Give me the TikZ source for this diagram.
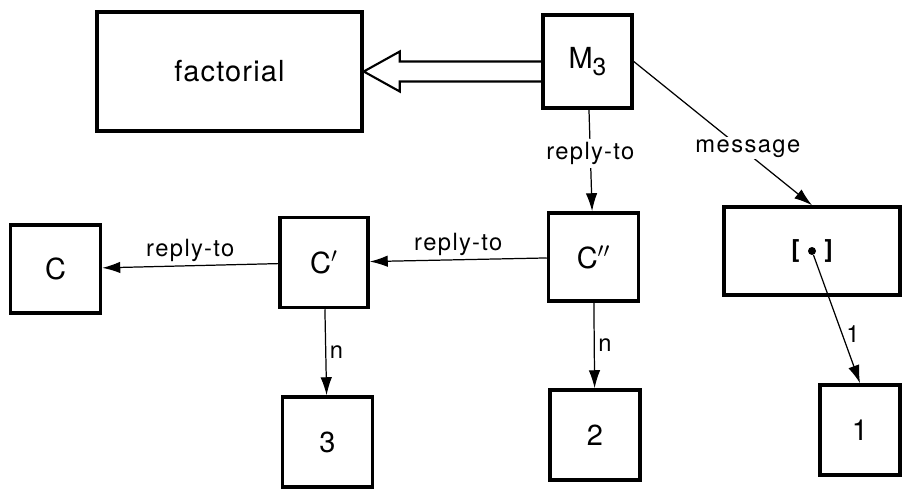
\documentclass[tikz,border=0pt]{standalone}
\usepackage{fontspec}
\newfontfamily\boxfont[LetterSpace=4]{TeX Gyre Heros}
\newfontfamily\edgefont[LetterSpace=6]{TeX Gyre Heros}
\usetikzlibrary{arrows.meta}

\tikzset{
    cell/.style={draw, line width=2pt, inner sep=0pt, minimum width=1.8cm, minimum height=1.8cm,
        font=\boxfont\fontsize{16.5}{19}\selectfont},
    arr/.style={-{Latex[length=3.6mm, width=2.3mm]}, line width=0.7pt},
    lbl/.style={font=\edgefont\fontsize{13.5}{16}\selectfont, inner sep=2pt},
    hollow/.style={line width=1.2pt, line join=miter},
    dot/.style={circle, fill, inner sep=0pt, minimum size=1.6mm}
}

\begin{document}
\begin{tikzpicture}
            \useasboundingbox (0, 0) rectangle (18.08, 9.78);

            \node[cell, minimum width=5.3cm, minimum height=2.38cm] (fact) at (4.59, 8.35) {factorial};
            \node[cell, minimum width=1.78cm, minimum height=1.86cm] (m3) at (11.75, 8.55) {M{\raisebox{-0.45ex}{\fontsize{14}{15}\selectfont 3}}};

            \node[cell, minimum height=1.76cm] (c) at (1.11, 4.40) {C};
            \node[cell, minimum width=1.76cm] (cp) at (6.48, 4.53) {C$'$};
            \node[cell, minimum height=1.76cm] (cpp) at (11.87, 4.64) {C$''$};
            \node[cell, minimum width=3.52cm, minimum height=1.76cm] (msg) at (16.24, 4.76) {\bfseries\fontsize{14}{16}\selectfont[\hspace{5mm}]};
            \node[dot] (pt) at (msg.center) {};

            \node[cell] (three) at (6.55, 0.94) {3};
            \node[cell] (two) at (11.90, 1.08) {2};
            \node[cell, minimum width=1.6cm] (one) at (17.20, 1.18) {1};

            % M3 -- factorial
            \coordinate (h) at (fact.east -| m3.west);
            \draw[hollow] ([yshift=2mm]h) -- ([xshift=7.2mm, yshift=2mm]fact.east) -- ([xshift=7.2mm, yshift=4mm]fact.east)
                -- (fact.east) -- ([xshift=7.2mm, yshift=-4mm]fact.east) -- ([xshift=7.2mm, yshift=-2mm]fact.east) -- ([yshift=-2mm]h);

            \draw[arr] (m3) -- node[lbl, fill=white, pos=0.43] {reply-to} (cpp);                  %  M3 -- C''
            \draw[arr] (m3.east) -- node[lbl, fill=white, pos=0.64, yshift=3pt, inner sep=1pt] {message} (msg.north); %  M3 -- [.]
            \draw[arr] (cpp) -- node[lbl, above] {reply-to} (cp);                                  %  C'' -- C'
            \draw[arr] (cp) -- node[lbl, above] {reply-to} (c);                                    %  C' -- C
            \draw[arr] (cp) -- node[lbl, right] {n} (three);                                       %  C' -- 3
            \draw[arr] (cpp) -- node[lbl, right] {n} (two);                                        %  C'' -- 2
            \draw[arr] (pt) -- node[lbl, right, pos=0.62] {1} (one.north);                         %  [.] -- 1
\end{tikzpicture}
\end{document}
